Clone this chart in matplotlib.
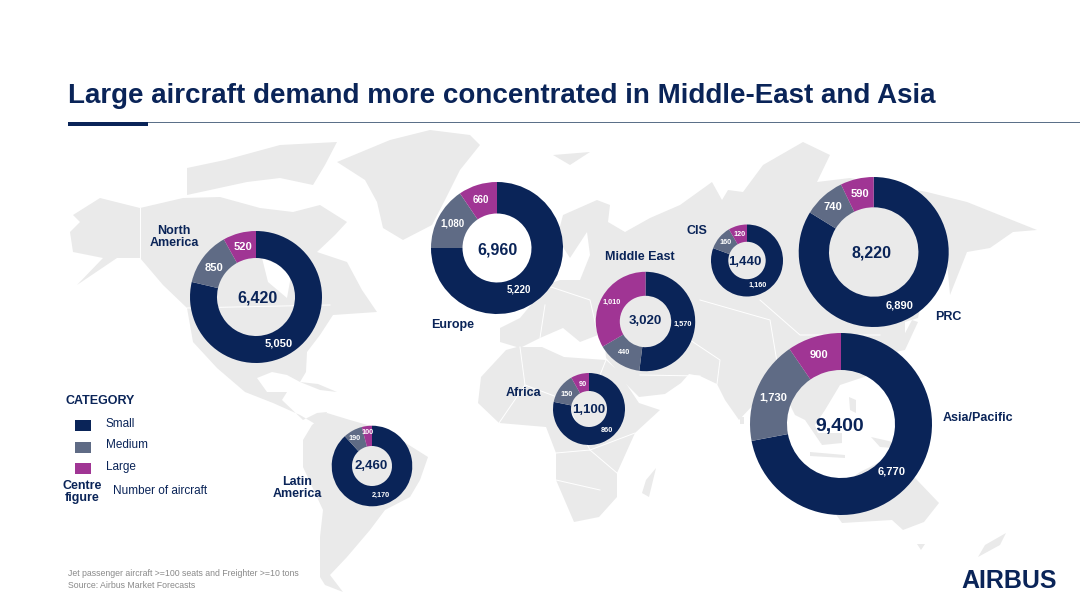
import matplotlib
matplotlib.use("Agg")
import matplotlib.pyplot as plt
from matplotlib.patches import Polygon, Rectangle

W, H = 1080, 607

# ---- data ----
regions = ["North America", "Europe", "Middle East", "CIS", "PRC", "Asia/Pacific", "Africa", "Latin America"]
small = [5050, 5220, 1570, 1160, 6890, 6770, 860, 2170]
medium = [850, 1080, 440, 160, 740, 1730, 150, 190]
large = [520, 660, 1010, 120, 590, 900, 90, 100]
categories = ["Small", "Medium", "Large"]

# ---- layout (pixels, y down) ----
centers = [(256, 297), (497, 248), (645.5, 321.5), (747, 260.5), (873.7, 252), (841, 424), (589, 409), (372, 466)]
outer = [66, 66, 49.7, 36, 75, 91, 36, 40.3]
inner = [39, 34.5, 25.7, 18.7, 44.7, 54, 18, 20]
center_text = [(257, 298), (497, 250), (645, 321), (745, 262), (872, 253), (840, 426), (589, 410), (371, 466)]
center_size = [11.5, 11.5, 9.5, 9.5, 11.5, 14, 9.5, 9.5]
label_size = [8, 7, 5.3, 5.2, 8, 8, 5.3, 5.2]
label_pos = [
    [(279, 344), (214, 268), (243, 247)],
    [(519, 290), (452, 224), (481, 200)],
    [(683, 324), (624, 353), (612, 302)],
    [(758, 285), (726, 243), (740, 234)],
    [(900, 305), (833, 207), (860, 194)],
    [(892, 471), (773, 397), (819, 355)],
    [(607, 431), (567, 394), (583, 385)],
    [(381, 495), (355, 438), (368, 432)],
]
name_pos = [(174, 237), (453, 325), (640, 257), (697, 231), (948, 317), (978, 418), (523, 393), (297, 488)]
name_text = ["North\nAmerica", "Europe", "Middle East", "CIS", "PRC", "Asia/Pacific", "Africa", "Latin\nAmerica"]

NAVY = "#0A2458"
SLATE = "#5F6B85"
PURPLE = "#A03594"
LAND = "#EAEAEA"
colors = [NAVY, SLATE, PURPLE]

# ---- decorative background map outlines (pixels) ----
land_shapes = [
    # North + Central America
    [(73, 215), (100, 198), (140, 208), (183, 198), (220, 197), (260, 208), (293, 212), (320, 205), (347, 222),
     (335, 235), (317, 252), (347, 262), (362, 290), (377, 312), (333, 315), (320, 335), (307, 352), (306, 372),
     (300, 382), (287, 375), (272, 372), (257, 378), (267, 392), (287, 392), (282, 400), (303, 420), (317, 413),
     (327, 412), (322, 428), (300, 415), (273, 403), (245, 392), (217, 368), (193, 342), (187, 308), (163, 285),
     (140, 258), (117, 258), (77, 285), (103, 258), (73, 252), (70, 232), (80, 222)],
    # Canadian Arctic
    [(187, 168), (225, 160), (280, 145), (337, 142), (325, 165), (313, 185), (280, 178), (247, 182), (187, 195)],
    # Greenland
    [(337, 162), (390, 140), (430, 130), (470, 135), (480, 145), (460, 170), (445, 200), (432, 225), (403, 240),
     (383, 228), (377, 202), (365, 180)],
    # South America
    [(327, 413), (350, 420), (385, 430), (428, 457), (420, 480), (410, 497), (385, 510), (370, 530), (347, 557),
     (330, 575), (343, 592), (325, 585), (320, 577), (320, 537), (323, 510), (303, 467), (303, 440), (312, 425)],
    # Cuba
    [(300, 382), (318, 384), (337, 392), (320, 390)],
    # Eurasia
    [(557, 238), (563, 215), (597, 200), (610, 205), (608, 222), (625, 232), (650, 218), (680, 205), (712, 182),
     (722, 200), (728, 190), (743, 192), (763, 165), (803, 142), (830, 155), (817, 182), (850, 178), (927, 192),
     (967, 202), (1037, 230), (1013, 232), (990, 248), (967, 252), (950, 295), (947, 262), (932, 265), (925, 285),
     (918, 318), (905, 322), (905, 345), (870, 375), (840, 385), (825, 410), (815, 425), (822, 445), (805, 420),
     (795, 415), (785, 395), (770, 390), (756, 402), (739, 420), (725, 400), (717, 384), (700, 376), (689, 374),
     (681, 383), (665, 394), (639, 397), (625, 383), (614, 367), (606, 358), (605, 345), (598, 335), (580, 342),
     (563, 328), (540, 338), (520, 348), (500, 342), (500, 328), (520, 318), (535, 300), (545, 285), (560, 280),
     (580, 280), (590, 255), (587, 232), (570, 258)],
    # Africa
    [(506, 350), (481, 377), (478, 403), (499, 423), (546, 427), (556, 453), (556, 480), (574, 522), (599, 517),
     (617, 497), (617, 473), (635, 433), (660, 410), (639, 403), (617, 370), (606, 360), (564, 357), (542, 347),
     (517, 347)],
    # Madagascar
    [(656, 468), (649, 497), (642, 493), (646, 480)],
    # Australia
    [(835, 490), (860, 472), (880, 462), (900, 462), (917, 480), (939, 503), (924, 522), (903, 530), (892, 520),
     (842, 523), (835, 513)],
    # New Zealand
    [(1006, 533), (1000, 545), (978, 557), (985, 545)],
    # Tasmania
    [(917, 544), (925, 544), (921, 550)],
    # Japan
    [(912, 320), (918, 322), (905, 350), (895, 352)],
    # Svalbard
    [(553, 155), (590, 152), (570, 165)],
    # Islands
    [(817, 433), (842, 433), (842, 443), (822, 445)],
    [(810, 452), (845, 455), (845, 458), (810, 456)],
    [(849, 397), (856, 400), (856, 413), (850, 410)],
    [(871, 437), (906, 445), (906, 449), (880, 447)],
    [(740, 417), (744, 417), (744, 424), (740, 424)],
]
border_lines = [
    [(520, 347), (525, 385), (499, 423)], [(525, 385), (565, 400), (600, 375), (606, 360)],
    [(556, 453), (590, 450), (617, 473)], [(565, 400), (590, 450)], [(556, 480), (600, 490)],
    [(590, 450), (635, 433)], [(545, 285), (590, 300), (598, 335)], [(540, 338), (545, 305)],
    [(760, 300), (800, 335), (880, 335)], [(700, 300), (770, 320), (780, 380)], [(690, 340), (720, 360), (717, 384)],
    [(640, 375), (700, 376)], [(187, 308), (330, 305)], [(140, 208), (140, 258)],
]

fig = plt.figure(figsize=(W / 100, H / 100), dpi=100, facecolor="white")
ax = fig.add_axes([0, 0, 1, 1])
plt.rcParams["font.family"] = ["Liberation Sans", "DejaVu Sans"]


def Y(y):
    return H - y


for shape in land_shapes:
    ax.add_patch(Polygon([(x, Y(y)) for x, y in shape], closed=True, fc=LAND, ec="none", zorder=1))
for line in border_lines:
    ax.plot([p[0] for p in line], [Y(p[1]) for p in line], color="white", lw=0.7, zorder=1.5)
# Hudson Bay
ax.add_patch(Polygon([(Y_x, Y(y)) for Y_x, y in [(262, 258), (292, 270), (287, 298), (268, 282)]], fc="white", ec="none", zorder=1.6))

for i, name in enumerate(regions):
    vals = [small[i], medium[i], large[i]]
    cx, cy = centers[i]
    ax.pie(vals, colors=colors, startangle=90, counterclock=False, center=(cx, Y(cy)), radius=outer[i], frame=True,
           wedgeprops=dict(width=outer[i] - inner[i], linewidth=0, zorder=3))
    for v, (lx, ly) in zip(vals, label_pos[i]):
        ax.text(lx, Y(ly), f"{v:,}", color="white", fontsize=label_size[i], fontweight="bold",
                ha="center", va="center", zorder=5)
    tx, ty = center_text[i]
    ax.text(tx, Y(ty), f"{sum(vals):,}", color=NAVY, fontsize=center_size[i], fontweight="bold",
            ha="center", va="center", zorder=5)
    nx, ny = name_pos[i]
    ax.text(nx, Y(ny), name_text[i], color=NAVY, fontsize=9, fontweight="bold", ha="center", va="center",
            linespacing=1.1, zorder=5)

ax.set_xlim(0, W)
ax.set_ylim(0, H)
ax.set_aspect("auto")
ax.axis("off")

# title + rule
ax.text(68, Y(96), "Large aircraft demand more concentrated in Middle-East and Asia", color=NAVY, fontsize=20,
        fontweight="bold", ha="left", va="center", zorder=6)
ax.add_patch(Rectangle((68, Y(123)), W - 68, 1.5, fc="#5B7089", ec="none", zorder=6))
ax.add_patch(Rectangle((68, Y(126)), 80, 4, fc=NAVY, ec="none", zorder=7))

# legend
ax.text(65, Y(401), "CATEGORY", color=NAVY, fontsize=9, fontweight="bold", ha="left", va="center", zorder=6)
for cat, col, sy in zip(categories, colors, [425.5, 447, 468.5]):
    ax.add_patch(Rectangle((75, Y(sy + 5.5)), 16, 11, fc=col, ec="none", zorder=6))
    ax.text(106, Y(sy - 1.5), cat, color=NAVY, fontsize=8.5, ha="left", va="center", zorder=6)
ax.text(82, Y(492), "Centre\nfigure", color=NAVY, fontsize=9, fontweight="bold", ha="center", va="center",
        linespacing=1.1, zorder=6)
ax.text(113, Y(491), "Number of aircraft", color=NAVY, fontsize=8.5, ha="left", va="center", zorder=6)

# footnotes
ax.text(68, Y(574), "Jet passenger aircraft >=100 seats and Freighter >=10 tons", color="#8A8A8A", fontsize=6.3,
        ha="left", va="center", zorder=6)
ax.text(68, Y(586), "Source: Airbus Market Forecasts", color="#8A8A8A", fontsize=6.3, ha="left", va="center", zorder=6)

# logotype
ax.text(1009, Y(581), "AIRBUS", color=NAVY, fontsize=18, fontweight="bold", ha="center", va="center", zorder=6)

fig.savefig("out.png", dpi=100)
